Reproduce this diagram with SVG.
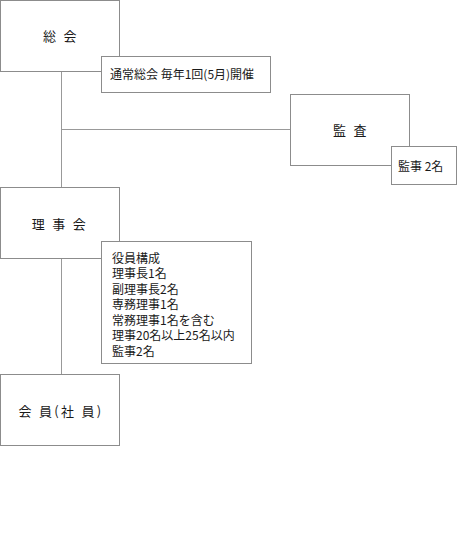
<svg xmlns="http://www.w3.org/2000/svg" width="458" height="537" viewBox="0 0 458 537">
<style>
.box{fill:#fff;stroke:#8c8c8c;stroke-width:1}
.line{stroke:#999;stroke-width:1;fill:none}
.t{font-family:"Noto Sans CJK JP","Noto Sans",sans-serif;fill:#1a1a1a}
.title{font-size:13px;text-anchor:middle;letter-spacing:2.3px}
.note{font-size:12px}
</style>
<rect x="0" y="0" width="458" height="537" fill="#fff"/>
<g id="connectors">
<line class="line" x1="61.5" y1="72" x2="61.5" y2="187"/>
<line class="line" x1="61.5" y1="129.5" x2="290" y2="129.5"/>
<line class="line" x1="61.5" y1="259" x2="61.5" y2="374"/>
</g>
<g id="soukai">
<rect class="box" x="0.5" y="0.5" width="119" height="71"/>
<text class="t title" x="61" y="41">総 会</text>
</g>
<g id="soukai-note">
<rect class="box" x="101.5" y="56.5" width="169" height="36"/>
<text class="t note" x="110" y="79" font-size="11.5">通常総会 毎年1回(5月)開催</text>
</g>
<g id="kansa">
<rect class="box" x="290.5" y="94.5" width="119" height="71"/>
<text class="t title" x="351" y="134.5">監 査</text>
</g>
<g id="kansa-note">
<rect class="box" x="391.5" y="146.5" width="65" height="38"/>
<text class="t note" x="398" y="170.5">監事 2名</text>
</g>
<g id="rijikai">
<rect class="box" x="0.5" y="187.5" width="119" height="71"/>
<text class="t title" x="60" y="228.5">理 事 会</text>
</g>
<g id="rijikai-note">
<rect class="box" x="101.5" y="241.5" width="150" height="122"/>
<text class="t note" x="112" y="262.5">役員構成</text>
<text class="t note" x="112" y="278">理事長1名</text>
<text class="t note" x="112" y="293.5">副理事長2名</text>
<text class="t note" x="112" y="309">専務理事1名</text>
<text class="t note" x="112" y="324.5">常務理事1名を含む</text>
<text class="t note" x="112" y="340">理事20名以上25名以内</text>
<text class="t note" x="112" y="355.5">監事2名</text>
</g>
<g id="kaiin">
<rect class="box" x="0.5" y="374.5" width="119" height="71"/>
<text class="t title" x="61" y="416">会 員(社 員)</text>
</g>
</svg>
